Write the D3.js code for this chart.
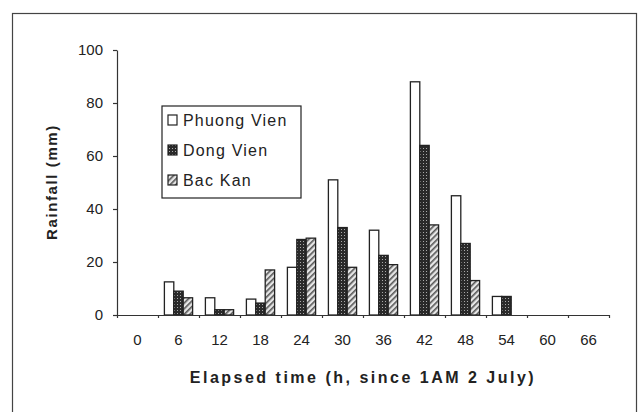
<!DOCTYPE html>
<html>
<head>
<meta charset="utf-8">
<script src="https://cdn.jsdelivr.net/npm/d3@7"></script>
<style>
  body { margin: 0; background: #fff; }
  svg { display: block; }
  .axis text { font-family: "Liberation Sans", Arial, sans-serif; font-size: 14px; fill: #222; }
  .axis path, .axis line { stroke: #333; stroke-width: 1.2; }
</style>
</head>
<body>
<div id="chart"></div>
<script>
// Data - rainfall per 6h window
const hours = [0, 6, 12, 18, 24, 30, 36, 42, 48, 54, 60, 66];
const series = ['Phuong Vien', 'Dong Vien', 'Bac Kan'];
const phuongVien = [0, 12.5, 6.5, 6, 18, 51, 32, 88, 45, 7, 0, 0];
const dongVien   = [0, 9, 2, 4.5, 28.5, 33, 22.5, 64, 27, 7, 0, 0];
const bacKan     = [0, 6.5, 2, 17, 29, 18, 19, 34, 13, 0, 0, 0];
const yTicks = [0, 20, 40, 60, 80, 100];

const width = 638, height = 412;
const margin = {top: 50, right: 29, bottom: 97, left: 117};

let svg = d3.select('#chart')
  .append('svg')
    .attr('width', width)
    .attr('height', height);

// Outer frame
svg.append('rect')
  .attr('x', 12.5)
  .attr('y', 13.5)
  .attr('width', 624)
  .attr('height', 420)
  .attr('fill', 'none')
  .attr('stroke', '#444')
  .attr('stroke-width', 1.2);

// Patterns
let defs = svg.append('defs');
let patDong = defs.append('pattern')
  .attr('id', 'pat-dong')
  .attr('patternUnits', 'userSpaceOnUse')
  .attr('width', 3)
  .attr('height', 3);
patDong.append('rect').attr('width', 3).attr('height', 3).attr('fill', '#2a2a2a');
patDong.append('rect').attr('x', 1).attr('y', 1).attr('width', 1).attr('height', 1).attr('fill', '#aaa');

let patBac = defs.append('pattern')
  .attr('id', 'pat-bac')
  .attr('patternUnits', 'userSpaceOnUse')
  .attr('width', 4)
  .attr('height', 4)
  .attr('patternTransform', 'rotate(45)');
patBac.append('rect').attr('width', 4).attr('height', 4).attr('fill', '#e6e6e6');
patBac.append('rect').attr('width', 1.6).attr('height', 4).attr('fill', '#555');

const fills = ['#fff', 'url(#pat-dong)', 'url(#pat-bac)'];

let table = hours.map((h, i) => ({
  hour: h,
  values: [phuongVien[i], dongVien[i], bacKan[i]]
}));

// Scales
let x = d3.scaleBand()
  .domain(hours)
  .range([margin.left, width - margin.right])
  .padding(0);

let xSub = d3.scaleBand()
  .domain(series)
  .range([0, x.bandwidth()])
  .paddingInner(0)
  .paddingOuter(0.68);

let y = d3.scaleLinear()
  .domain([0, 100])
  .range([height - margin.bottom, margin.top]);

// Bars
let groups = svg.append('g')
  .selectAll('g')
  .data(table)
  .enter().append('g')
    .attr('transform', d => 'translate(' + x(d.hour) + ',0)');

groups.selectAll('rect')
  .data(d => d.values.map((v, i) => ({name: series[i], value: v, fill: fills[i]})))
  .enter().filter(d => d.value > 0).append('rect')
    .attr('x', d => xSub(d.name))
    .attr('y', d => y(d.value))
    .attr('width', xSub.bandwidth())
    .attr('height', d => y(0) - y(d.value))
    .attr('fill', d => d.fill)
    .attr('stroke', '#222')
    .attr('stroke-width', 1.3);

// Y axis
svg.append('g')
  .attr('class', 'axis axis-y')
  .attr('transform', 'translate(' + margin.left + ',0)')
  .call(d3.axisLeft(y).tickValues(yTicks).tickSize(4).tickSizeOuter(0).tickPadding(10))
  .call(g => g.selectAll('text').style('font-size', '15px'));

// X axis - ticks at group boundaries, labels centred in band
let xEdges = d3.scaleLinear().domain([0, hours.length]).range([margin.left, width - margin.right]);
svg.append('g')
  .attr('class', 'axis axis-x')
  .attr('transform', 'translate(0,' + y(0) + ')')
  .call(d3.axisBottom(xEdges).ticks(hours.length).tickSize(3).tickSizeOuter(0).tickFormat(''));

svg.append('g')
  .attr('class', 'axis axis-x-labels')
  .attr('transform', 'translate(0,' + y(0) + ')')
  .call(d3.axisBottom(x).tickSize(0).tickPadding(19))
  .call(g => g.select('.domain').remove())
  .call(g => g.selectAll('text').style('font-size', '15px'));

// Axis titles
svg.append('text')
  .attr('x', 363)
  .attr('y', 383)
  .attr('text-anchor', 'middle')
  .style('font-family', '"Liberation Sans", Arial, sans-serif')
  .style('font-weight', 'bold')
  .style('font-size', '16px')
  .style('letter-spacing', '2.5px')
  .style('fill', '#222')
  .text('Elapsed time (h, since 1AM 2 July)');

svg.append('text')
  .attr('transform', 'translate(57,182) rotate(-90)')
  .attr('text-anchor', 'middle')
  .style('font-family', '"Liberation Sans", Arial, sans-serif')
  .style('font-weight', 'bold')
  .style('font-size', '15px')
  .style('letter-spacing', '1.6px')
  .style('fill', '#222')
  .text('Rainfall (mm)');

// Legend
let legend = svg.append('g')
  .attr('class', 'legend')
  .attr('transform', 'translate(162,106)');
legend.append('rect')
  .attr('width', 139)
  .attr('height', 92)
  .attr('fill', '#fff')
  .attr('stroke', '#222')
  .attr('stroke-width', 1.2);
let items = legend.selectAll('g')
  .data(series)
  .enter().append('g')
    .attr('transform', (d, i) => 'translate(6,' + (14 + i * 30) + ')');
items.append('rect')
  .attr('x', 0)
  .attr('y', -5)
  .attr('width', 9)
  .attr('height', 10)
  .attr('fill', (d, i) => fills[i])
  .attr('stroke', '#222')
  .attr('stroke-width', 1.2);
items.append('text')
  .attr('x', 15)
  .attr('y', 6)
  .style('font-family', '"Liberation Sans", Arial, sans-serif')
  .style('font-size', '16px')
  .style('letter-spacing', '1.2px')
  .style('fill', '#222')
  .text(d => d);
</script>
</body>
</html>
